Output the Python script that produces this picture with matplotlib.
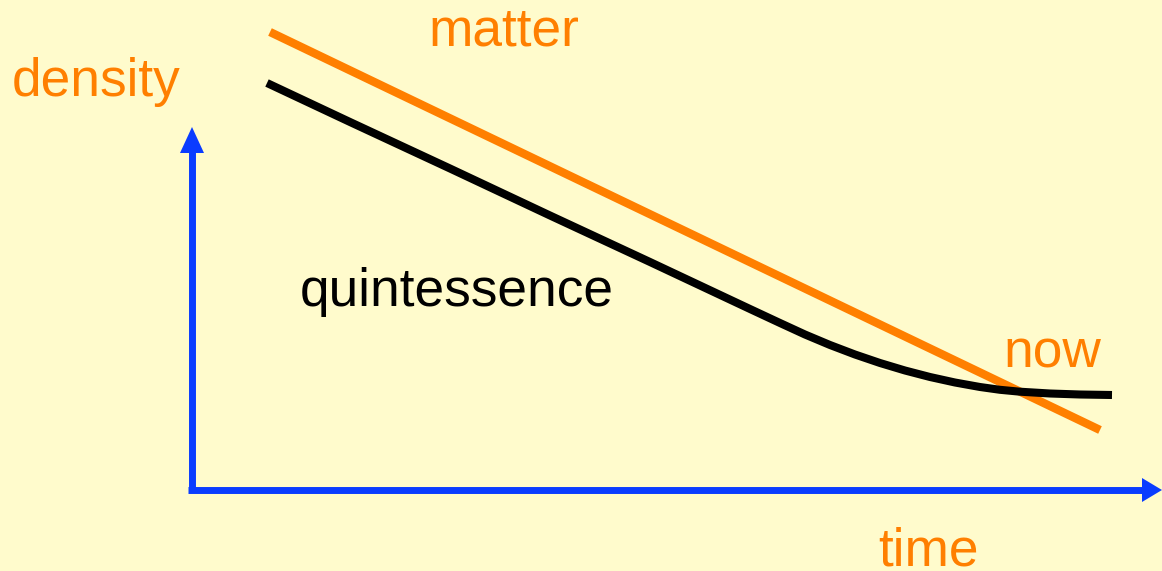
import matplotlib
matplotlib.use("Agg")
from matplotlib import pyplot as plt

# diagram coordinates (pixel-like units, y grows downward)
matter_x = [270, 1100]
matter_y = [32, 430]

quint_x = [267, 350, 450, 550, 650, 700, 750, 780, 805, 830, 855, 880,
           905, 930, 955, 980, 1000, 1020, 1050, 1080, 1112]
quint_y = [83, 122, 168.5, 215.5, 262, 285.5, 309, 323, 334.5, 345, 354.5, 363,
           370.5, 377, 382.5, 387, 389.8, 391.7, 393.5, 394.5, 395]

bg = "#FFFBCC"
orange = "#FF7F00"
blue = "#0A3CFF"

plt.rcParams["font.family"] = ["Liberation Sans", "DejaVu Sans"]

fig = plt.figure(figsize=(11.62, 5.71), dpi=100)
fig.patch.set_facecolor(bg)
ax = fig.add_axes([0, 0, 1, 1])
ax.set_facecolor(bg)
ax.set_xlim(0, 1162)
ax.set_ylim(571, 0)
ax.axis("off")

# axes arrows
ax.plot([192, 192], [492, 145], color=blue, lw=5, solid_capstyle="butt")
ax.fill([192, 180, 204], [127, 153, 153], color=blue, lw=0)
ax.plot([188, 1146], [490, 490], color=blue, lw=5, solid_capstyle="butt")
ax.fill([1162, 1142, 1142], [490, 478, 502], color=blue, lw=0)

# curves
ax.plot(matter_x, matter_y, color=orange, lw=6, solid_capstyle="butt")
ax.plot(quint_x, quint_y, color="black", lw=5.8, solid_capstyle="butt",
        solid_joinstyle="round")

fs = 38.3
ax.text(428, 46, "matter", color=orange, fontsize=fs, va="baseline")
ax.text(12, 96, "density", color=orange, fontsize=fs, va="baseline")
ax.text(300, 306, "quintessence", color="black", fontsize=fs, va="baseline")
ax.text(1003, 368, "now", color=orange, fontsize=fs, va="baseline")
ax.text(878, 566, "time", color=orange, fontsize=fs, va="baseline")

fig.savefig("out.png", dpi=100, facecolor=bg)
